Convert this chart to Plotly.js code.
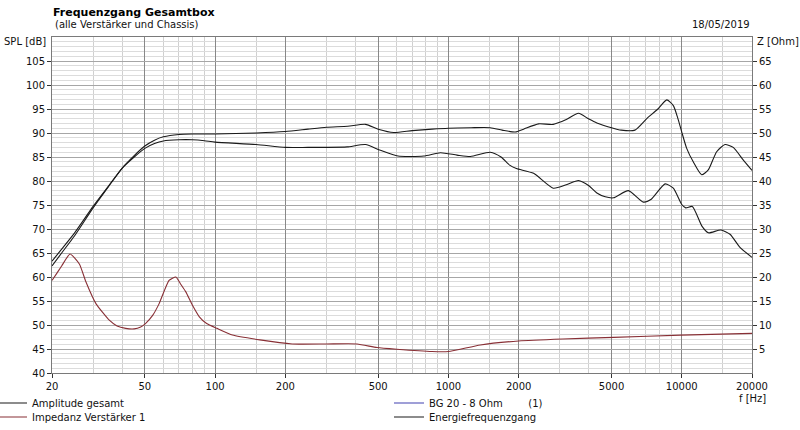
<!DOCTYPE html>
<html>
<head>
<meta charset="utf-8">
<script src="https://cdn.plot.ly/plotly-3.0.1.min.js"></script>
<style>html,body{margin:0;padding:0;background:#fff;}#chart{width:800px;height:430px;}</style>
</head>
<body>
<div id="chart"></div>
<script>
// ---- data ----
var ampFreq = [20, 22, 25, 30, 35, 40, 45, 50, 55, 60, 70, 80, 100, 150, 200, 250, 300, 370, 441, 500, 583, 700, 850, 1000, 1250, 1511, 1700, 1934, 2100, 2432, 2813, 3200, 3608, 4000, 4327, 5000, 5500, 6300, 7080, 7900, 8624, 9204, 9600, 10000, 10500, 11200, 12170, 12990, 14110, 15320, 16620, 18330, 20000];
var ampSPL  = [63.3, 65.8, 69.2, 74.7, 79.0, 82.7, 85.3, 87.3, 88.5, 89.2, 89.7, 89.8, 89.8, 90.0, 90.3, 90.8, 91.2, 91.4, 91.8, 90.8, 90.1, 90.5, 90.8, 91.0, 91.1, 91.1, 90.6, 90.2, 90.8, 91.9, 91.8, 92.8, 94.1, 92.9, 92.1, 91.1, 90.6, 90.6, 93.0, 95.0, 96.9, 95.7, 93.2, 90.2, 86.8, 84.0, 81.3, 82.3, 86.1, 87.6, 87.0, 84.4, 82.2];

var energyFreq = [20, 22, 25, 30, 35, 40, 45, 50, 55, 60, 70, 80, 90, 100, 150, 200, 250, 300, 368, 441, 511, 608, 784, 924, 1089, 1242, 1511, 1681, 1830, 1955, 2317, 2813, 3200, 3608, 4000, 4327, 4700, 5100, 5906, 6847, 7400, 8480, 9200, 10000, 10400, 11100, 12200, 13000, 14700, 16100, 17800, 20000];
var energySPL  = [62.3, 65.0, 68.6, 74.4, 78.9, 82.7, 85.0, 86.8, 87.8, 88.35, 88.6, 88.6, 88.4, 88.1, 87.6, 87.0, 87.0, 87.0, 87.1, 87.6, 86.4, 85.2, 85.2, 85.9, 85.4, 85.1, 86.0, 85.0, 83.3, 82.6, 81.6, 78.5, 79.2, 80.1, 79.0, 77.5, 76.7, 76.5, 78.0, 75.6, 76.2, 79.4, 78.5, 75.1, 74.4, 74.7, 70.6, 69.2, 69.8, 68.9, 66.1, 64.1];

var impFreq = [20, 21, 22, 23.9, 26.2, 28, 30.9, 35.2, 38, 41.4, 45, 48, 50.3, 54, 57.5, 63.5, 67.9, 71, 74.9, 80, 85.6, 92, 101.8, 118.7, 155.5, 214, 300, 406, 494, 600, 851, 1000, 1370, 2000, 3090, 5100, 9900, 20000];
var impOhm  = [19.3, 20.8, 22.3, 24.8, 22.7, 18.9, 14.4, 11.0, 9.8, 9.3, 9.2, 9.6, 10.3, 12.0, 14.4, 19.3, 20.0, 18.6, 16.9, 14.1, 11.7, 10.3, 9.3, 7.9, 6.9, 6.05, 6.05, 6.05, 5.3, 4.95, 4.47, 4.47, 5.85, 6.67, 7.08, 7.43, 7.9, 8.25];

var bgFreq = [null];
var bgOhm  = [null];

var xTickVals   = [20, 50, 100, 200, 500, 1000, 2000, 5000, 10000, 20000];
var xTickLabels = ['20', '50', '100', '200', '500', '1000', '2000', '5000', '10000', '20000'];
var xMinorVals  = [30, 40, 60, 70, 80, 90, 150, 300, 400, 600, 700, 800, 900, 1500, 3000, 4000, 6000, 7000, 8000, 9000, 15000];
var splTicks = [40, 45, 50, 55, 60, 65, 70, 75, 80, 85, 90, 95, 100, 105];
var zTicks   = [5, 10, 15, 20, 25, 30, 35, 40, 45, 50, 55, 60, 65];

var seriesNames = ['Amplitude gesamt', 'Impedanz Verstärker 1', 'BG 20 - 8 Ohm\u00a0\u00a0\u00a0\u00a0\u00a0\u00a0\u00a0\u00a0(1)', 'Energiefrequenzgang'];

// ---- styling ----
var FONT = 'DejaVu Sans, Liberation Sans, sans-serif';
var FS = 10;
var TXT = '#111';
var L = 52, T = 37, W = 700, H = 336;
function px2x(p) { return (p - L) / W; }
function px2y(p) { return (T + H - p) / H; }

var traces = [
  {x: impFreq, y: impOhm, yaxis: 'y2', name: seriesNames[1], legend: 'legend2', mode: 'lines',
   line: {color: '#882f35', width: 1.1, shape: 'spline', smoothing: 0.5}},
  {x: energyFreq, y: energySPL, name: seriesNames[3], legend: 'legend4', mode: 'lines',
   line: {color: '#1a1a1a', width: 1.1, shape: 'spline', smoothing: 0.6}},
  {x: ampFreq, y: ampSPL, name: seriesNames[0], legend: 'legend', mode: 'lines',
   line: {color: '#1a1a1a', width: 1.1, shape: 'spline', smoothing: 0.6}},
  {x: bgFreq, y: bgOhm, yaxis: 'y2', name: seriesNames[2], legend: 'legend3', mode: 'lines',
   line: {color: '#4040b0', width: 1.1}}
];

function legendAt(leftPx, centerPx) {
  return {x: px2x(leftPx), xanchor: 'left', y: px2y(centerPx), yanchor: 'middle',
          bgcolor: 'rgba(0,0,0,0)', borderwidth: 0, font: {family: FONT, size: FS, color: TXT}};
}

var layout = {
  width: 800, height: 430,
  margin: {l: L, r: 800 - L - W, t: T, b: 430 - T - H, autoexpand: false},
  paper_bgcolor: '#ffffff', plot_bgcolor: '#ffffff',
  font: {family: FONT, size: FS, color: TXT},
  title: {text: 'Frequenzgang Gesamtbox', xref: 'container', x: 53 / 800, xanchor: 'left',
          yref: 'container', y: 1 - 12 / 430, yanchor: 'middle',
          font: {family: FONT, size: 11, color: '#000', weight: 'bold'}},
  showlegend: true,
  legend: legendAt(-8, 403),
  legend2: legendAt(-8, 417),
  legend3: legendAt(389, 403),
  legend4: legendAt(389, 417),
  xaxis: {
    type: 'log', range: [Math.log10(20), Math.log10(20000)],
    tickmode: 'array', tickvals: xTickVals, ticktext: xTickLabels,
    ticks: 'outside', ticklen: 4, tickcolor: '#333', tickwidth: 1,
    showgrid: true, gridcolor: '#888888', gridwidth: 1,
    minor: {tickmode: 'array', tickvals: xMinorVals, showgrid: true, gridcolor: '#d0d0d0', gridwidth: 1, ticks: ''},
    showline: true, linecolor: '#7a7a7a', linewidth: 1, mirror: true, zeroline: false,
    tickfont: {family: FONT, size: FS, color: TXT}
  },
  yaxis: {
    range: [40, 110], tickmode: 'array', tickvals: splTicks,
    ticks: 'outside', ticklen: 4, tickcolor: '#333', tickwidth: 1,
    showgrid: true, gridcolor: '#a6a6a6', gridwidth: 1,
    minor: {tickmode: 'linear', tick0: 40, dtick: 1, showgrid: true, gridcolor: '#dcdcdc', gridwidth: 1, ticks: ''},
    showline: true, linecolor: '#7a7a7a', linewidth: 1, mirror: true, zeroline: false,
    tickfont: {family: FONT, size: FS, color: TXT}
  },
  yaxis2: {
    overlaying: 'y', side: 'right', range: [0, 70], tickmode: 'array', tickvals: zTicks,
    ticks: 'outside', ticklen: 4, tickcolor: '#333', tickwidth: 1,
    showgrid: false, zeroline: false, showline: false,
    tickfont: {family: FONT, size: FS, color: TXT}
  },
  annotations: [
    {text: '(alle Verstärker und Chassis)', xref: 'paper', yref: 'paper', x: px2x(53), y: px2y(25),
     xanchor: 'left', yanchor: 'middle', showarrow: false, font: {family: FONT, size: FS, color: TXT}},
    {text: '18/05/2019', xref: 'paper', yref: 'paper', x: px2x(752), y: px2y(25),
     xanchor: 'right', yanchor: 'middle', showarrow: false, font: {family: FONT, size: FS, color: TXT}},
    {text: 'SPL [dB]', xref: 'paper', yref: 'paper', x: px2x(48), y: px2y(42),
     xanchor: 'right', yanchor: 'middle', showarrow: false, font: {family: FONT, size: FS, color: TXT}},
    {text: 'Z [Ohm]', xref: 'paper', yref: 'paper', x: px2x(755), y: px2y(42),
     xanchor: 'left', yanchor: 'middle', showarrow: false, font: {family: FONT, size: FS, color: TXT}},
    {text: 'f [Hz]', xref: 'paper', yref: 'paper', x: px2x(752), y: px2y(398),
     xanchor: 'center', yanchor: 'middle', showarrow: false, font: {family: FONT, size: FS, color: TXT}}
  ]
};

Plotly.newPlot('chart', traces, layout, {staticPlot: true, displayModeBar: false});
</script>
</body>
</html>
